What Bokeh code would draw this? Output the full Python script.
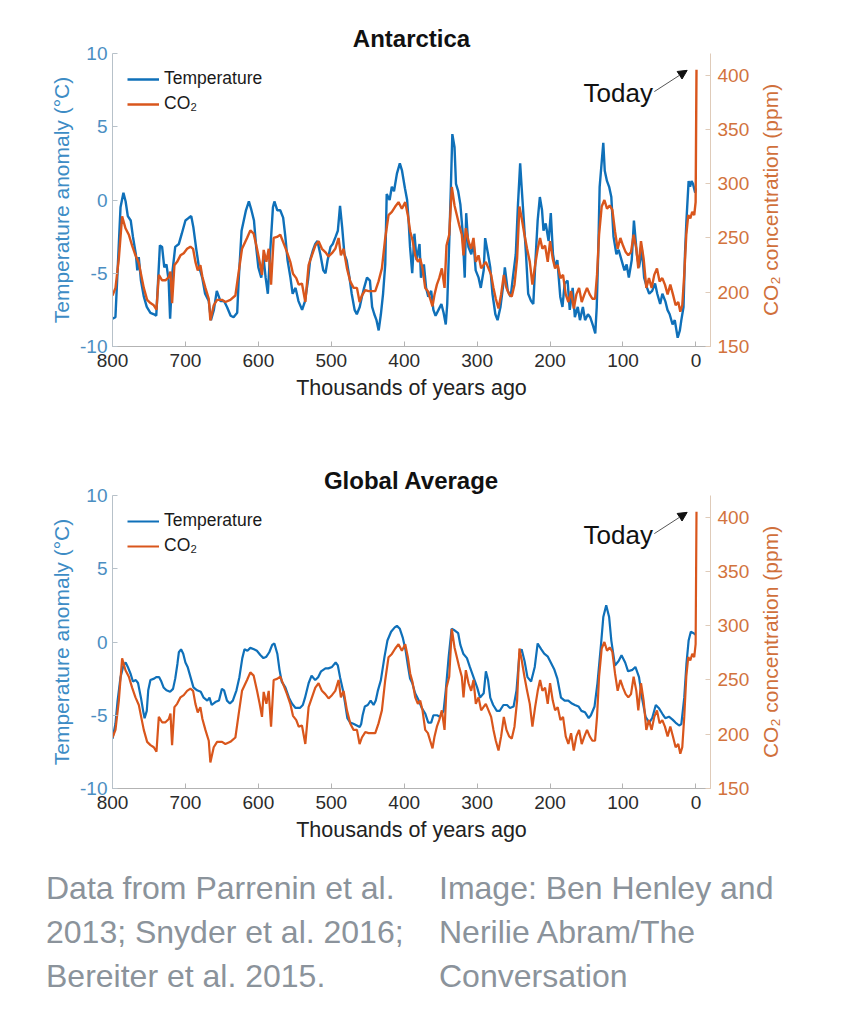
import math
from bokeh.plotting import figure
from bokeh.models import (Range1d, LinearAxis, FixedTicker, Legend, LegendItem,
                          Label, Arrow, NormalHead, Div)
from bokeh.core.properties import value
from bokeh.layouts import column, row
from bokeh.embed import file_html
from bokeh.resources import INLINE

# ---------------- data ----------------
x_ticks = [800, 700, 600, 500, 400, 300, 200, 100, 0]
temp_ticks = [-10, -5, 0, 5, 10]
co2_ticks = [150, 200, 250, 300, 350, 400]

ant_temp_kyr = [800, 796, 793, 789, 785, 782, 779, 775, 772, 768, 766, 764, 761, 757, 753, 748, 743, 740, 738, 735,
                732, 729, 726, 723, 721, 718, 714, 709, 705, 700, 695, 692, 689, 685, 682, 677, 673, 668, 665, 661,
                657, 652, 647, 643, 638, 634, 629, 627, 623, 620, 617, 613, 610, 606, 603, 600, 596, 593, 590, 587,
                584, 580, 578, 574, 570, 566, 563, 560, 556, 553, 549, 545, 540, 536, 532, 529, 525, 522, 519, 515,
                511, 508, 505, 501, 498, 494, 491, 488, 485, 482, 479, 475, 472, 468, 465, 461, 458, 455, 451, 447,
                444, 441, 438, 435, 432, 429, 426, 424, 420, 417, 414, 410, 406, 403, 399, 396, 394, 392, 389, 386,
                383, 379, 377, 373, 370, 367, 363, 360, 357, 353, 349, 346, 343, 341, 338, 336, 334, 331, 329, 326,
                323, 320, 317, 315, 312, 308, 305, 302, 298, 295, 291, 289, 285, 282, 279, 275, 272, 268, 264, 262,
                258, 254, 251, 247, 244, 241, 239, 236, 233, 230, 226, 223, 220, 217, 214, 211, 209, 206, 202, 199,
                196, 193, 190, 186, 183, 180, 176, 173, 169, 166, 162, 159, 155, 152, 148, 145, 141, 138, 136, 134,
                132, 129, 127, 125, 122, 119, 116, 113, 109, 106, 102, 98, 95, 92, 88, 85, 81, 78, 74, 71,
                67, 64, 60, 56, 53, 49, 46, 42, 39, 36, 32, 29, 25, 22, 20, 17, 15, 13, 10, 8,
                6, 4, 1, 0]
ant_temp = [-8.1, -8.0, -4.8, -0.5, 0.5, -0.1, -1.1, -1.4, -2.5, -3.7, -4.8, -3.9, -5.5, -6.6, -7.3, -7.7, -7.8, -7.9, -6.0, -3.1,
            -3.2, -4.6, -4.4, -5.5, -8.1, -5.0, -3.2, -3.0, -2.3, -1.4, -1.2, -1.1, -1.9, -3.4, -4.4, -5.3, -6.4, -6.9, -8.2, -7.5,
            -6.2, -6.9, -6.9, -7.3, -7.9, -8.0, -7.7, -5.5, -2.1, -1.4, -0.7, -0.1, -0.6, -1.4, -3.2, -4.6, -5.3, -3.9, -5.3, -6.4,
            -3.7, -0.5, -0.1, -0.7, -0.7, -1.2, -2.5, -4.1, -5.3, -6.4, -6.0, -6.9, -7.5, -6.9, -5.5, -4.1, -3.4, -3.0, -2.8, -3.7,
            -4.8, -5.0, -4.1, -3.2, -3.0, -2.5, -2.1, -0.4, -1.9, -3.7, -4.1, -5.3, -6.4, -7.5, -7.8, -7.3, -6.6, -6.0, -5.3, -5.5,
            -7.3, -7.8, -8.2, -8.9, -7.8, -6.4, -4.4, 0.4, 0.0, 0.9, 0.6, 1.8, 2.5, 2.0, 0.8, 0.0, -1.4, -3.2, -5.0, -2.3,
            -4.1, -3.0, -5.3, -4.4, -6.0, -6.6, -6.2, -7.5, -7.9, -7.5, -7.1, -7.7, -8.5, -7.1, -2.5, 0.9, 4.5, 3.6, 1.1, 0.6,
            -0.3, -2.1, -5.3, -0.9, -3.2, -3.7, -2.8, -4.8, -5.3, -6.0, -4.8, -2.6, -3.7, -4.6, -6.4, -7.8, -8.2, -7.3, -5.7, -4.6,
            -6.2, -6.6, -5.3, -3.7, -0.3, 2.5, 0.9, -1.4, -3.7, -6.4, -6.9, -7.1, -4.1, -1.4, 0.2, -0.7, -2.1, -1.6, -2.8, -0.9,
            -3.7, -4.6, -4.1, -6.6, -7.3, -5.7, -5.5, -7.5, -6.0, -8.0, -7.3, -8.2, -7.3, -8.2, -7.8, -8.0, -8.6, -9.1, -7.3, -3.7,
            0.9, 2.7, 3.9, 2.0, 1.3, 0.9, 0.2, -2.5, -3.7, -3.4, -4.1, -4.8, -4.4, -5.3, -4.1, -1.4, -3.7, -4.6, -3.4, -5.3,
            -6.0, -6.4, -6.2, -5.7, -6.4, -7.1, -6.4, -6.9, -7.5, -7.8, -8.5, -8.2, -9.4, -8.9, -8.2, -7.3, -3.7, -1.4, 1.3, 0.9,
            1.3, 1.1, 0.5, 0.8]

glob_temp_kyr = [800, 796, 793, 789, 785, 782, 779, 775, 772, 768, 765, 761, 758, 756, 753, 751, 748, 743, 740, 736,
                 733, 730, 726, 721, 717, 714, 711, 709, 706, 703, 700, 697, 693, 689, 684, 679, 675, 670, 667, 664,
                 659, 654, 650, 647, 643, 639, 635, 630, 626, 622, 619, 615, 611, 606, 602, 597, 593, 589, 585, 581,
                 578, 574, 571, 568, 563, 558, 554, 549, 543, 539, 536, 531, 527, 522, 518, 514, 508, 504, 499, 494,
                 491, 488, 484, 481, 478, 474, 469, 465, 461, 459, 457, 454, 450, 446, 442, 439, 436, 432, 427, 423,
                 418, 413, 410, 406, 402, 398, 395, 392, 389, 385, 380, 376, 371, 367, 363, 360, 355, 351, 346, 343,
                 339, 335, 331, 326, 323, 319, 314, 310, 305, 300, 296, 291, 288, 285, 282, 278, 273, 269, 264, 259,
                 255, 250, 246, 242, 239, 235, 231, 226, 221, 217, 212, 208, 203, 199, 194, 190, 185, 180, 175, 170,
                 166, 161, 157, 152, 147, 144, 139, 135, 130, 127, 123, 119, 116, 111, 106, 102, 97, 93, 87, 83,
                 78, 74, 69, 64, 60, 55, 51, 46, 42, 37, 32, 28, 23, 20, 16, 13, 10, 7, 3, 0.8]
glob_temp = [-6.6, -5.6, -4.0, -2.4, -1.6, -1.4, -1.7, -2.2, -2.7, -2.6, -2.8, -3.8, -4.7, -5.2, -4.7, -3.3, -2.6, -2.5, -2.4, -2.4,
             -2.7, -3.1, -3.3, -3.4, -3.2, -2.5, -1.5, -0.7, -0.5, -0.8, -1.4, -1.7, -2.4, -3.1, -3.3, -3.4, -3.8, -4.0, -3.8, -4.3,
             -4.1, -4.0, -3.2, -3.3, -4.0, -4.2, -4.0, -3.3, -2.4, -1.1, -0.5, -0.6, -0.4, -0.5, -0.6, -0.9, -1.1, -1.0, -0.7, -0.2,
             -0.1, -0.8, -1.9, -2.7, -3.1, -3.8, -4.2, -4.5, -4.5, -4.3, -3.8, -2.8, -2.3, -2.6, -2.4, -2.0, -1.8, -1.8, -1.7, -1.4,
             -1.6, -2.4, -3.3, -4.2, -5.2, -5.5, -5.6, -5.7, -5.8, -5.6, -5.0, -4.4, -4.3, -4.0, -4.3, -4.0, -3.3, -2.6, -1.0, 0.1,
             0.7, 1.0, 1.1, 0.9, 0.3, -0.6, -1.6, -2.5, -2.8, -3.5, -4.0, -4.5, -4.9, -5.5, -5.5, -5.0, -5.0, -5.1, -4.7, -3.3,
             -1.0, 0.9, 0.8, 0.6, -0.2, -0.8, -1.1, -1.7, -2.4, -3.1, -3.8, -3.5, -2.0, -2.6, -3.8, -4.3, -4.7, -4.7, -4.3, -4.3,
             -4.5, -4.4, -3.3, -0.8, -0.5, -1.3, -2.4, -2.7, -1.7, -0.1, -0.5, -0.8, -1.0, -1.4, -1.9, -2.5, -3.8, -4.0, -4.0, -4.2,
             -4.3, -4.4, -4.7, -4.8, -5.2, -5.0, -4.4, -2.8, -0.1, 1.7, 2.5, 1.7, 0.1, -1.6, -1.3, -0.9, -1.4, -2.0, -1.9, -1.7,
             -2.4, -3.8, -5.1, -5.5, -5.2, -4.3, -4.5, -4.9, -5.2, -5.1, -5.3, -5.5, -5.7, -5.6, -3.8, -1.5, 0.1, 0.7, 0.6, 0.5]

co2_kyr = [800.0, 795.9, 791.3, 786.8, 782.2, 777.6, 773.1, 768.5, 763.9, 760.7, 757.1, 752.5, 747.9, 743.4, 739.7,
           736.5, 732.0, 727.4, 722.8, 720.5, 718.3, 715.1, 711.4, 706.8, 702.3, 697.7, 693.2, 689.5, 686.3, 683.1,
           679.5, 676.7, 672.6, 668.0, 665.8, 661.2, 656.6, 649.8, 645.2, 638.4, 631.5, 626.9, 622.4, 615.5, 611.0,
           606.4, 601.8, 598.2, 595.0, 592.7, 589.0, 585.8, 582.6, 579.0, 574.4, 569.9, 565.3, 560.7, 556.2, 552.5,
           548.0, 544.7, 540.2, 535.6, 531.1, 526.5, 521.9, 517.4, 512.8, 508.2, 503.7, 499.1, 494.5, 490.0, 486.8,
           483.1, 478.5, 474.0, 469.4, 464.8, 461.2, 458.0, 453.4, 448.9, 444.3, 439.7, 435.2, 430.6, 426.0, 421.5,
           416.9, 412.3, 407.8, 403.2, 398.6, 395.0, 391.8, 388.6, 384.9, 381.2, 378.1, 374.9, 371.2, 367.5, 364.4,
           361.2, 358.4, 355.2, 352.0, 348.4, 344.7, 342.0, 338.3, 334.7, 331.0, 327.8, 324.6, 321.0, 318.7, 315.5,
           311.8, 308.2, 305.0, 301.8, 298.1, 294.5, 291.3, 288.1, 284.4, 280.8, 277.6, 274.4, 270.7, 267.1, 263.4,
           259.8, 256.1, 252.5, 248.8, 245.2, 242.0, 238.8, 235.1, 231.5, 227.8, 224.2, 220.5, 216.9, 213.7, 210.5,
           206.8, 203.2, 200.0, 196.3, 193.1, 189.5, 185.8, 182.2, 178.5, 174.9, 171.2, 167.5, 163.9, 160.2, 156.6,
           152.9, 149.3, 145.6, 142.0, 138.3, 135.6, 132.8, 129.2, 125.5, 121.9, 118.2, 114.6, 110.9, 107.3, 103.6,
           100.0, 96.3, 92.7, 89.0, 85.4, 81.7, 79.0, 75.3, 71.7, 68.0, 64.4, 60.7, 57.1, 53.4, 49.8,
           46.1, 42.5, 38.8, 35.1, 31.5, 27.8, 24.2, 21.4, 18.7, 16.0, 13.2, 10.5, 7.7, 5.0, 2.3,
           0.4, -0.8]
co2_ppm = [197, 204, 231, 270, 259, 253, 243, 234, 227, 216, 204, 193, 190, 188, 184,
           216, 211, 211, 214, 219, 190, 225, 228, 234, 236, 240, 242, 240, 228, 220,
           225, 214, 204, 194, 174, 188, 193, 193, 191, 193, 197, 219, 240, 250, 257,
           254, 240, 228, 216, 239, 228, 240, 207, 250, 251, 253, 245, 237, 228, 217,
           213, 207, 208, 191, 225, 234, 243, 247, 240, 237, 233, 236, 240, 250, 234,
           240, 222, 210, 204, 204, 191, 197, 202, 201, 201, 201, 210, 222, 250, 271,
           274, 279, 283, 277, 283, 271, 256, 248, 234, 228, 231, 222, 204, 201, 194,
           187, 198, 207, 213, 222, 204, 243, 253, 297, 280, 271, 262, 253, 234, 259,
           247, 240, 250, 228, 234, 222, 225, 228, 222, 216, 204, 194, 185, 198, 216,
           204, 198, 196, 207, 231, 279, 268, 253, 240, 228, 207, 225, 240, 250, 240,
           243, 228, 247, 231, 222, 225, 213, 216, 198, 191, 201, 185, 198, 204, 191,
           198, 204, 198, 194, 194, 216, 253, 279, 285, 277, 280, 276, 256, 240, 250,
           243, 237, 234, 237, 253, 240, 222, 247, 231, 204, 213, 204, 216, 222, 210,
           213, 207, 198, 207, 198, 188, 191, 182, 188, 216, 253, 271, 268, 274, 271,
           283, 405]

co2_axis_title = ["CO₂ concentration (ppm)"]

# "Today" annotation position (data units of the temperature axis)
today_text_at = (59, 7.3)
today_arrow_from = (57, 7.4)
today_arrow_to = (12, 8.85)

BLUE = "#0f70b9"
ORANGE = "#d9561c"
FONT = "Liberation Sans"


def make_panel(title, temp_kyr, temp_vals, height, top_border, lw):
    p = figure(width=752, height=height,
               x_range=Range1d(800, -20), y_range=Range1d(-10, 10),
               output_backend="svg", toolbar_location=None,
               min_border_left=112, min_border_right=42,
               min_border_top=top_border, min_border_bottom=64,
               title=title)
    p.outline_line_color = None
    p.grid.visible = False
    p.background_fill_color = "white"
    p.border_fill_color = "white"

    p.title.text_font = FONT
    p.title.text_font_size = "24px"
    p.title.text_font_style = "bold"
    p.title.text_color = "#111111"
    p.title.align = "center"
    p.title.standoff = 3

    p.extra_y_ranges = {"co2": Range1d(150, 420)}

    # bottom axis
    xa = p.xaxis[0]
    xa.ticker = FixedTicker(ticks=x_ticks)
    xa.axis_line_color = "#b3b3b3"
    xa.major_tick_line_color = "#b3b3b3"
    xa.major_tick_in = 5
    xa.major_tick_out = 0
    xa.minor_tick_line_color = None
    xa.major_label_text_font = FONT
    xa.major_label_text_font_size = "19px"
    xa.major_label_text_color = "#2b2b2b"
    xa.major_label_standoff = 7
    xa.axis_label = "Thousands of years ago"
    xa.axis_label_text_font = FONT
    xa.axis_label_text_font_size = "21.5px"
    xa.axis_label_text_font_style = "normal"
    xa.axis_label_text_color = "#222222"
    xa.axis_label_standoff = 6

    # left axis
    ya = p.yaxis[0]
    ya.ticker = FixedTicker(ticks=temp_ticks)
    ya.major_label_overrides = {-10: "-10", -5: "-5"}
    ya.axis_line_color = "#b7c1c9"
    ya.major_tick_line_color = "#b7c1c9"
    ya.major_tick_in = 5
    ya.major_tick_out = 0
    ya.minor_tick_line_color = None
    ya.major_label_text_font = FONT
    ya.major_label_text_font_size = "19px"
    ya.major_label_text_color = "#4b8ec2"
    ya.major_label_standoff = 5
    ya.axis_label = "Temperature anomaly (°C)"
    ya.axis_label_text_font = FONT
    ya.axis_label_text_font_size = "21px"
    ya.axis_label_text_font_style = "normal"
    ya.axis_label_text_color = "#3d8cc5"
    ya.axis_label_standoff = 4

    # right axis (its title is drawn in the narrow strip next to the panel)
    ra = LinearAxis(y_range_name="co2", ticker=FixedTicker(ticks=co2_ticks))
    ra.axis_line_color = "#dfcbb9"
    ra.major_tick_line_color = "#dfcbb9"
    ra.major_tick_in = 5
    ra.major_tick_out = 0
    ra.minor_tick_line_color = None
    ra.major_label_text_font = FONT
    ra.major_label_text_font_size = "19px"
    ra.major_label_text_color = "#d2733d"
    ra.major_label_standoff = 7
    p.add_layout(ra, "right")

    r_t = p.line(temp_kyr, temp_vals, line_color=BLUE, line_width=lw)
    r_c = p.line(co2_kyr, co2_ppm, line_color=ORANGE, line_width=lw, y_range_name="co2")

    legend = Legend(items=[LegendItem(label="Temperature", renderers=[r_t]),
                           LegendItem(label="CO₂", renderers=[r_c])],
                    location="top_left")
    legend.label_text_font = FONT
    legend.label_text_font_size = "17.5px"
    legend.label_text_color = "#1a1a1a"
    legend.glyph_width = 32
    legend.glyph_height = 20
    legend.label_height = 20
    legend.label_standoff = 5
    legend.spacing = 4
    legend.padding = 14
    legend.margin = 1
    legend.border_line_alpha = 0
    legend.background_fill_alpha = 0
    p.add_layout(legend)

    p.add_layout(Label(x=today_text_at[0], y=today_text_at[1], text="Today",
                       text_align="right", text_baseline="alphabetic",
                       text_font=FONT, text_font_size="26px", text_color="#111111"))
    p.add_layout(Arrow(end=NormalHead(size=9, fill_color="#111111", line_color="#111111"),
                       x_start=today_arrow_from[0], y_start=today_arrow_from[1],
                       x_end=today_arrow_to[0], y_end=today_arrow_to[1],
                       line_color="#555555", line_width=1))
    return p


def make_side_title(height, top_border):
    # narrow strip holding the right-axis title, reading bottom-to-top
    q = figure(width=40, height=height, x_range=Range1d(0, 40), y_range=Range1d(-10, 10),
               output_backend="svg", toolbar_location=None,
               x_axis_location=None, y_axis_location=None,
               min_border_left=0, min_border_right=0,
               min_border_top=top_border, min_border_bottom=64)
    q.outline_line_color = None
    q.grid.visible = False
    q.background_fill_color = "white"
    q.border_fill_color = "white"
    q.text(x=[18], y=[0], text=co2_axis_title, angle=math.pi / 2,
           text_align="center", text_baseline="middle",
           text_font=value(FONT), text_font_size="21px", text_color="#d0703b")
    return q


p1 = make_panel("Antarctica", ant_temp_kyr, ant_temp, 410, 53, 2.4)
s1 = make_side_title(410, 53)
p2 = make_panel("Global Average", glob_temp_kyr, glob_temp, 442, 85, 2.2)
s2 = make_side_title(442, 85)

caption_html = (
    '<div style="position:relative;width:832px;height:160px;'
    'font-family:\'Liberation Sans\',Arial,sans-serif;font-size:32px;line-height:44px;color:#8b939b;">'
    '<div style="position:absolute;left:41px;top:9px;white-space:nowrap;">'
    'Data from Parrenin et al.<br>2013; Snyder et al. 2016;<br>Bereiter et al. 2015.</div>'
    '<div style="position:absolute;left:434px;top:9px;white-space:nowrap;">'
    'Image: Ben Henley and<br>Nerilie Abram/The<br>Conversation</div>'
    '</div>'
)
caption = Div(text=caption_html, width=832, height=160)

layout = column(row(p1, s1), row(p2, s2), caption)

open("out.html", "w").write(file_html(layout, INLINE))
